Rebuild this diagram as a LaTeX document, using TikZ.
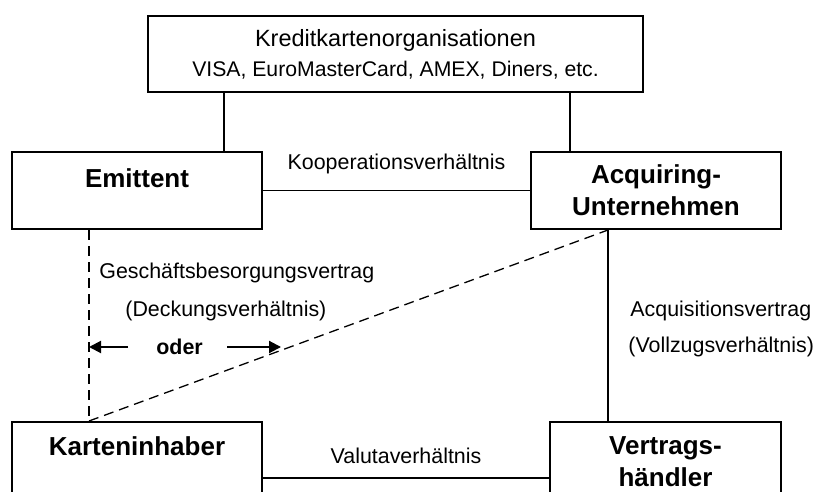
\documentclass[tikz,border=0pt]{standalone}
\usepackage{fontspec}
\setmainfont{Liberation Sans}
\usetikzlibrary{positioning,arrows.meta,calc}

\tikzset{
  box/.style={draw, line width=1pt, inner sep=0pt},
  conn/.style={line width=0.65pt},
  dashconn/.style={line width=0.65pt, dash pattern=on 5pt off 3pt},
  boldtxt/.style={inner sep=0pt, align=center, font=\bfseries\fontsize{13}{16}\selectfont},
  lbl/.style={inner sep=0pt, font=\fontsize{10.7}{13}\selectfont},
  oderarrow/.style={line width=1pt, -{Triangle[length=6pt,width=6pt]}}
}

\begin{document}
\begin{tikzpicture}[x=0.5pt, y=-0.5pt]
    \useasboundingbox (0,0) rectangle (814,492);
    % boxes
    \node[box, minimum width=247.5pt, minimum height=38pt, align=center,
          font=\fontsize{10.6}{15}\selectfont] (org) at (395.5,54)
          {{\fontsize{11.75}{15}\selectfont Kreditkartenorganisationen}\\VISA, EuroMasterCard, AMEX, Diners, etc.};
    \node[box, minimum width=125pt, minimum height=38.5pt] (emi) at (137,190.5) {};
    \node[box, minimum width=125pt, minimum height=38.5pt] (acq) at (656,190.5) {};
    \node[box, minimum width=125pt, minimum height=56pt] (kar) at (137,478) {};
    \node[box, minimum width=115.5pt, minimum height=56pt] (ver) at (665.5,478) {};
    \node[boldtxt, below=8.5pt of emi.north] (emitxt) {Emittent};
    \node[boldtxt, below=6.5pt of acq.north] (acqtxt) {Acquiring-\\Unternehmen};
    \node[boldtxt, below=7.5pt of kar.north] (kartxt) {Karteninhaber};
    \node[boldtxt, below=7.5pt of ver.north] (vertxt) {Vertrags-\\händler};
    % connectors
    \draw[conn] ([xshift=43.5pt]emi.north) -- ([xshift=43.5pt]emi.north |- org.south);
    \draw[conn] ([xshift=-43pt]acq.north) -- ([xshift=-43pt]acq.north |- org.south);
    \draw[conn] (emi.east) -- (acq.west)
      node[lbl, midway, yshift=13.5pt] (koop) {Kooperationsverhältnis};
    \draw[conn] (kar.east) -- (ver.west)
      node[lbl, midway, yshift=11pt] (valuta) {Valutaverhältnis};
    \coordinate (emibot) at ([xshift=-24pt]emi.south);
    \coordinate (kartop) at ([xshift=-24pt]kar.north);
    \coordinate (acqbot) at ([xshift=-24pt]acq.south);
    \draw[dashconn] (emibot) -- (kartop);
    \draw[dashconn] (kartop) -- (acqbot);
    \draw[conn] (acqbot) -- (acqbot |- ver.north);
    % labels
    \node[lbl, anchor=west] (gbv) at (99,273) {Geschäftsbesorgungsvertrag};
    \node[lbl, anchor=west] (deck) at (125,311) {(Deckungsverhältnis)};
    \node[lbl, anchor=west, font=\bfseries\fontsize{10.7}{13}\selectfont] (oder) at (156,347) {oder};
    \node[lbl, anchor=west] (acqv) at (630,311) {Acquisitionsvertrag};
    \node[lbl, anchor=west] (vollz) at (628,347) {(Vollzugsverhältnis)};
    \coordinate (diag) at ($(kartop)!0.37!(acqbot)$);
    \draw[oderarrow] ([xshift=-14pt]oder.west) -- (oder.west -| kartop);
    \draw[oderarrow] ([xshift=12pt]oder.east) -- (oder.east -| diag);
  \end{tikzpicture}
\end{document}
